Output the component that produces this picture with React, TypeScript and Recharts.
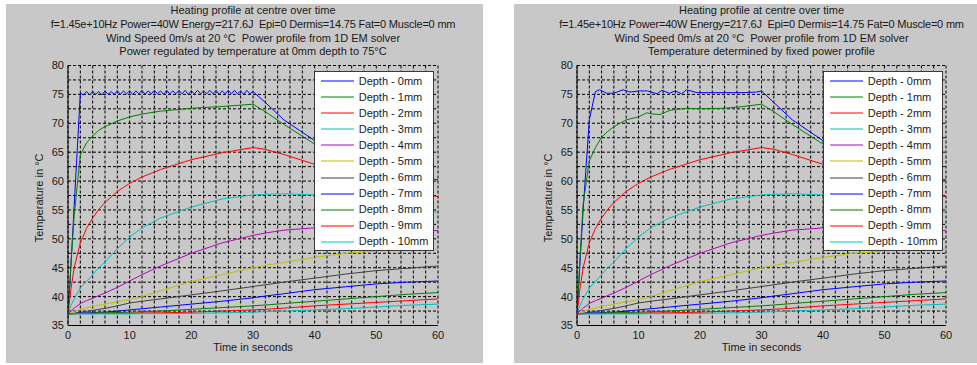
import React from 'react';
import { LineChart, Line, XAxis, YAxis, CartesianGrid, Legend } from 'recharts';

// ---------- labels ----------
const titleLines = [
  'Heating profile at centre over time',
  'f=1.45e+10Hz Power=40W Energy=217.6J  Epi=0 Dermis=14.75 Fat=0 Muscle=0 mm',
  'Wind Speed 0m/s at 20 \u00B0C  Power profile from 1D EM solver',
];
const leftSubtitle = 'Power regulated by temperature at 0mm depth to 75\u00B0C';
const rightSubtitle = 'Temperature determined by fixed power profile';
const xLabel = 'Time in seconds';
const yLabel = 'Temperature in \u00B0C';

const depthLabels = [
  'Depth - 0mm', 'Depth - 1mm', 'Depth - 2mm', 'Depth - 3mm', 'Depth - 4mm', 'Depth - 5mm',
  'Depth - 6mm', 'Depth - 7mm', 'Depth - 8mm', 'Depth - 9mm', 'Depth - 10mm',
];
const depthColors = [
  '#0000ff', '#008000', '#ff0000', '#00bfbf', '#bf00bf', '#bfbf00',
  '#404040', '#0000ff', '#008000', '#ff0000', '#00bfbf',
];

// ticks (grid every 2 s / 2.5 degC, labels every 10 s / 5 degC)
const xTicks = [0, 2, 4, 6, 8, 10, 12, 14, 16, 18, 20, 22, 24, 26, 28, 30, 32, 34, 36, 38, 40, 42, 44, 46, 48, 50, 52, 54, 56, 58, 60];
const yTicks = [35, 37.5, 40, 42.5, 45, 47.5, 50, 52.5, 55, 57.5, 60, 62.5, 65, 67.5, 70, 72.5, 75, 77.5, 80];

// ---------- data ----------
const tCommon = [0, 0.5, 1, 2, 3, 4, 5, 6, 8, 10, 12, 15, 20, 25, 30, 32, 35, 40, 45, 50, 55, 60];

const depth2 = [37, 41.5, 45, 49.3, 51.8, 53.6, 55.1, 56.3, 58.2, 59.6, 60.7, 62.0, 63.7, 64.9, 65.8, 65.5, 64.6, 62.9, 61.2, 59.6, 58.3, 57.3];
const depth3 = [37, 38.5, 39.6, 41.5, 42.6, 43.8, 45.0, 46.0, 48.3, 50.3, 51.9, 53.6, 55.5, 56.9, 57.6, 57.7, 57.8, 57.6, 57.0, 56.2, 55.4, 54.6];
const depth4 = [37, 37.5, 38.0, 38.8, 39.3, 39.7, 40.2, 40.6, 41.6, 42.7, 43.8, 45.3, 47.5, 49.3, 50.6, 51.0, 51.5, 51.9, 52.0, 51.9, 51.7, 51.4];
const depth5 = [37, 37.2, 37.4, 37.8, 38.0, 38.3, 38.5, 38.7, 39.1, 39.5, 40.0, 41.0, 42.6, 43.8, 45.0, 45.4, 45.9, 46.8, 47.5, 47.9, 48.1, 48.2];
const depth6 = [37, 37.05, 37.1, 37.3, 37.45, 37.6, 37.8, 37.95, 38.4, 38.9, 39.2, 39.6, 40.3, 41.0, 41.75, 42.05, 42.5, 43.2, 43.9, 44.5, 44.9, 45.3];
const depth7 = [37, 37.05, 37.1, 37.15, 37.2, 37.2, 37.3, 37.3, 37.5, 37.7, 37.9, 38.2, 38.7, 39.2, 39.8, 40.1, 40.5, 41.2, 41.7, 42.2, 42.5, 42.7];
const depth8 = [37, 37, 37.05, 37.1, 37.1, 37.15, 37.2, 37.2, 37.25, 37.3, 37.35, 37.5, 37.8, 38.1, 38.4, 38.55, 38.8, 39.2, 39.6, 40.0, 40.4, 40.7];
const depth9 = [37, 37, 37, 37.05, 37.05, 37.05, 37.1, 37.1, 37.1, 37.1, 37.15, 37.2, 37.3, 37.5, 37.7, 37.8, 38.0, 38.4, 38.7, 39.0, 39.3, 39.6];
const depth10 = [37, 37, 37, 37, 37, 37, 37, 37, 37, 37, 37.05, 37.05, 37.1, 37.2, 37.3, 37.4, 37.5, 37.7, 37.9, 38.2, 38.5, 38.7];

// left panel: regulated 0mm (oscillating around 75) and 1mm
const leftD0Time = [
  0, 0.3, 2,
  2.5, 3, 3.5, 4, 4.5, 5, 5.5, 6, 6.5, 7,
  7.5, 8, 8.5, 9, 9.5, 10, 10.5, 11, 11.5, 12,
  12.5, 13, 13.5, 14, 14.5, 15, 15.5, 16, 16.5, 17,
  17.5, 18, 18.5, 19, 19.5, 20, 20.5, 21, 21.5, 22,
  22.5, 23, 23.5, 24, 24.5, 25, 25.5, 26, 26.5, 27,
  27.5, 28, 28.5, 29, 29.5,
  30, 32, 35, 40, 45, 50, 55, 60,
];
const leftD0 = [
  37, 42, 75.2,
  74.9, 75.5, 74.9, 75.5, 75.0, 75.5, 74.9, 75.6, 75.0, 75.5,
  75.0, 75.6, 75.0, 75.6, 75.1, 75.6, 75.0, 75.6, 75.1, 75.7,
  75.0, 75.6, 75.1, 75.7, 75.1, 75.6, 75.0, 75.7, 75.1, 75.6,
  75.1, 75.7, 75.1, 75.7, 75.0, 75.6, 75.1, 75.7, 75.1, 75.6,
  75.1, 75.7, 75.1, 75.7, 75.0, 75.6, 75.1, 75.7, 75.1, 75.7,
  75.1, 75.6, 75.0, 75.7, 75.1,
  75.5, 73.6, 70.6, 67.0, 64.3, 62.3, 61.0, 60.2,
];
const leftD1 = [37, 46, 54, 64.5, 66.6, 67.8, 68.8, 69.4, 70.4, 71.1, 71.6, 72.1, 72.6, 72.9, 73.3, 72.0, 69.8, 66.4, 63.8, 62.0, 60.9, 60.2];

// right panel: fixed power 0mm and 1mm
const rightD0Time = [0, 1, 2, 3, 3.7, 4.8, 6, 7.5, 8.6, 10.2, 11.5, 13, 13.8, 15, 16, 17, 17.8, 19.5, 20, 23.8, 27, 29.2, 30, 32, 35, 40, 45, 50, 55, 60];
const rightD0 = [37, 55, 70.6, 75.5, 75.8, 75.2, 75.2, 75.8, 75.4, 75.6, 75.6, 75.1, 75.7, 75.2, 75.6, 75.1, 75.8, 75.3, 75.3, 75.3, 75.3, 75.4, 75.6, 73.6, 70.6, 67.0, 64.3, 62.3, 61.0, 60.2];
const rightD1Time = [0, 0.5, 1, 2, 3, 4, 5, 6, 8, 10, 11.3, 12.5, 13.5, 15, 16, 18, 20, 24, 27, 30, 32, 35, 40, 45, 50, 55, 60];
const rightD1 = [37, 47, 56, 63.5, 65.8, 67.6, 68.6, 69.4, 70.6, 71.1, 71.8, 71.6, 71.5, 72.2, 72.4, 72.6, 72.5, 72.6, 72.9, 73.3, 72.0, 69.8, 66.4, 63.8, 62.0, 60.9, 60.2];

type Pt = { t: number; v: number };
const zip = (ts: number[], vs: number[]): Pt[] => ts.map((t, i) => ({ t, v: vs[i] }));

const sharedDeep = [depth2, depth3, depth4, depth5, depth6, depth7, depth8, depth9, depth10].map((vs) => zip(tCommon, vs));
const leftSeries: Pt[][] = [zip(leftD0Time, leftD0), zip(tCommon, leftD1), ...sharedDeep];
const rightSeries: Pt[][] = [zip(rightD0Time, rightD0), zip(rightD1Time, rightD1), ...sharedDeep];

// ---------- styling ----------
const FONT = '"Liberation Sans", Arial, Helvetica, sans-serif';
const TEXT = '#1a1a1a';
const PANEL_BG = '#c8c8c8';
const PANEL_H = 359;

const renderLegend = (props: any) => {
  const payload = [...(props.payload || [])].sort(
    (a: any, b: any) => depthLabels.indexOf(a.value) - depthLabels.indexOf(b.value),
  );
  return (
    <div
      style={{
        boxSizing: 'border-box',
        width: 120,
        height: 180,
        background: '#fff',
        border: '1px solid #3a3a3a',
        paddingTop: 1,
        fontFamily: FONT,
        fontSize: 11,
        color: TEXT,
      }}
    >
      {payload.map((e: any, i: number) => (
        <div key={i} style={{ height: 16.1, position: 'relative', whiteSpace: 'nowrap' }}>
          <svg width={40} height={16} style={{ position: 'absolute', left: 6, top: 0 }}>
            <line x1={0} x2={33} y1={8} y2={8} stroke={e.color} strokeWidth={1.2} />
          </svg>
          <span style={{ position: 'absolute', left: 43.7, top: 1.5, lineHeight: '13px' }}>{e.value}</span>
        </div>
      ))}
    </div>
  );
};

type PanelProps = {
  left: number;
  width: number;
  marginLeft: number;
  marginRight: number;
  subtitle: string;
  series: Pt[][];
  legendLeft: number;
};

function Panel({ left, width, marginLeft, marginRight, subtitle, series, legendLeft }: PanelProps) {
  const yAxisWidth = 30;
  const plotLeft = marginLeft + yAxisWidth;
  const plotRight = width - marginRight;
  const plotCenter = (plotLeft + plotRight) / 2;
  const lines = [...titleLines, subtitle];
  return (
    <div style={{ position: 'absolute', left, top: 4, width, height: PANEL_H, background: PANEL_BG }}>
      <LineChart
        width={width}
        height={PANEL_H}
        margin={{ top: 61.5, right: marginRight, bottom: 17.5, left: marginLeft }}
      >
        <CartesianGrid stroke="#000" strokeDasharray="3 2" strokeWidth={1} />
        <XAxis
          type="number"
          dataKey="t"
          domain={[0, 60]}
          ticks={xTicks}
          interval={0}
          allowDataOverflow
          height={20}
          tickLine={false}
          tickSize={4}
          tickMargin={2}
          axisLine={{ stroke: '#000' }}
          tick={{ fill: TEXT, fontSize: 11, fontFamily: FONT }}
          tickFormatter={(v: number) => (v % 10 === 0 ? String(v) : '')}
        />
        <YAxis
          type="number"
          domain={[35, 80]}
          ticks={yTicks}
          interval={0}
          allowDataOverflow
          width={yAxisWidth}
          tickLine={false}
          tickSize={2}
          tickMargin={2}
          axisLine={{ stroke: '#000' }}
          tick={{ fill: TEXT, fontSize: 11, fontFamily: FONT }}
          tickFormatter={(v: number) => (v % 5 === 0 ? String(v) : '')}
        />
        {series.map((d, i) => (
          <Line
            key={depthLabels[i]}
            data={d}
            dataKey="v"
            name={depthLabels[i]}
            type="linear"
            stroke={depthColors[i]}
            strokeWidth={1}
            dot={false}
            activeDot={false}
            isAnimationActive={false}
          />
        ))}
        <Legend
          layout="vertical"
          align="center"
          verticalAlign="middle"
          content={renderLegend}
          wrapperStyle={{ left: legendLeft, top: 67, width: 120, height: 180 }}
        />
      </LineChart>
      {/* titles */}
      <div
        style={{
          position: 'absolute',
          left: plotCenter - 250,
          top: 0,
          width: 500,
          textAlign: 'center',
          fontFamily: FONT,
          fontSize: 11,
          lineHeight: '13.8px',
          color: TEXT,
          whiteSpace: 'pre',
        }}
      >
        {lines.map((l, i) => (
          <div key={i} style={{ letterSpacing: i === 1 ? '-0.2px' : undefined }}>{l}</div>
        ))}
      </div>
      {/* x label */}
      <div
        style={{
          position: 'absolute',
          left: plotCenter - 100,
          top: 336.6,
          width: 200,
          textAlign: 'center',
          fontFamily: FONT,
          fontSize: 11,
          lineHeight: '13.8px',
          color: TEXT,
        }}
      >
        {xLabel}
      </div>
      {/* y label */}
      <div
        style={{
          position: 'absolute',
          left: plotLeft - 28.3 - 60,
          top: 194 - 6.9,
          width: 120,
          height: 13.8,
          textAlign: 'center',
          fontFamily: FONT,
          fontSize: 11,
          lineHeight: '13.8px',
          color: TEXT,
          transform: 'rotate(-90deg)',
          transformOrigin: 'center center',
          whiteSpace: 'nowrap',
        }}
      >
        {yLabel}
      </div>
    </div>
  );
}

export default function App() {
  return (
    <div style={{ position: 'fixed', left: 0, top: 0, width: 977, height: 365, background: '#fff', overflow: 'hidden' }}>
      <Panel left={6} width={477} marginLeft={32} marginRight={45} subtitle={leftSubtitle} series={leftSeries} legendLeft={308} />
      <Panel left={514} width={463} marginLeft={33} marginRight={31} subtitle={rightSubtitle} series={rightSeries} legendLeft={309} />
    </div>
  );
}
